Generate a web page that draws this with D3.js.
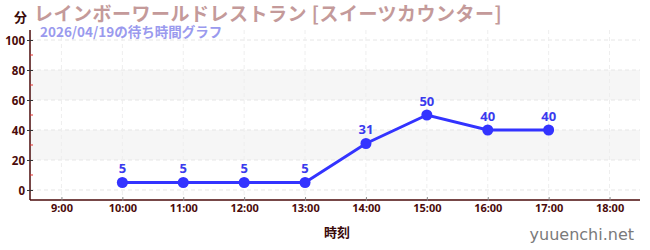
<!DOCTYPE html>
<html>
<head>
<meta charset="utf-8">
<script src="https://cdn.jsdelivr.net/npm/d3@7"></script>
<style>
  body { margin: 0; background: #fff; }
  svg { font-family: "Noto Sans CJK JP", "Noto Sans", sans-serif; }
</style>
</head>
<body>
<div id="container"></div>
<script>
/* DATA */
const hours = [10, 11, 12, 13, 14, 15, 16, 17];
const waits = [5, 5, 5, 5, 31, 50, 40, 40];
const xTicks = [9, 10, 11, 12, 13, 14, 15, 16, 17, 18];
const yTicks = [0, 20, 40, 60, 80, 100];
const yMinor = [10, 30, 50, 70, 90];
const bands = [[20, 40], [60, 80]];

const width = 650, height = 250;
const margin = { top: 30, right: 10, bottom: 50, left: 30 };

const svg = d3.select("#container").append("svg")
  .attr("width", width)
  .attr("height", height);

const xScale = d3.scaleLinear()
  .domain([8.5, 18.5])
  .range([margin.left + 1, width - margin.right]);

const yScale = d3.scaleLinear()
  .domain([-6.67, 106.67])
  .range([height - margin.bottom, margin.top]);

const axisColor = "#4a0a0a";
const numFont = "'Noto Sans', sans-serif";

// bands
svg.selectAll(".band")
  .data(bands)
  .join("rect")
  .attr("x", margin.left)
  .attr("width", width - margin.right - margin.left)
  .attr("y", d => yScale(d[1]))
  .attr("height", d => yScale(d[0]) - yScale(d[1]))
  .attr("fill", "#f6f6f6");

// grid
svg.selectAll(".hgrid")
  .data(yTicks)
  .join("line")
  .attr("x1", margin.left).attr("x2", width - margin.right)
  .attr("y1", d => yScale(d)).attr("y2", d => yScale(d))
  .attr("stroke", "#e6e6e6")
  .attr("stroke-dasharray", "4,3");

svg.selectAll(".vgrid")
  .data(xTicks)
  .join("line")
  .attr("x1", d => xScale(d)).attr("x2", d => xScale(d))
  .attr("y1", margin.top).attr("y2", height - margin.bottom)
  .attr("stroke", "#eeeeee")
  .attr("stroke-dasharray", "4,3");

// y axis
const yAxis = d3.axisLeft(yScale)
  .tickValues(yTicks)
  .tickSize(3)
  .tickPadding(2);

const yG = svg.append("g")
  .attr("transform", `translate(${margin.left},0)`)
  .call(yAxis);
yG.select(".domain").attr("stroke", axisColor).attr("stroke-width", 1.5).attr("d", `M0,${margin.top}V${height - margin.bottom}`);
yG.selectAll(".tick line").attr("stroke", "#333").attr("x1", 3);
yG.selectAll(".tick text")
  .attr("fill", axisColor)
  .style("font-size", "11.5px")
  .style("font-family", numFont)
  .style("font-weight", "bold")
  .attr("dy", "0.35em");

svg.selectAll(".yminor")
  .data(yMinor)
  .join("line")
  .attr("x1", margin.left).attr("x2", margin.left + 3)
  .attr("y1", d => yScale(d)).attr("y2", d => yScale(d))
  .attr("stroke", "#e03030");

// x axis
const xAxis = d3.axisBottom(xScale)
  .tickValues(xTicks)
  .tickSize(4)
  .tickPadding(0)
  .tickFormat(d => d + ":00");

const xG = svg.append("g")
  .attr("transform", `translate(0,${height - margin.bottom})`)
  .call(xAxis);
xG.select(".domain").attr("stroke", axisColor).attr("stroke-width", 1.5).attr("d", `M${margin.left},0H${width - margin.right}`);
xG.selectAll(".tick line").attr("stroke", "#888").attr("y1", -3).attr("y2", 1);
xG.selectAll(".tick text")
  .attr("fill", axisColor)
  .style("font-size", "11px")
  .style("font-family", numFont)
  .style("font-weight", "bold");

// line
const line = d3.line()
  .x((d, i) => xScale(hours[i]))
  .y(d => yScale(d));

svg.append("path")
  .datum(waits)
  .attr("d", line)
  .attr("fill", "none")
  .attr("stroke", "#3333ff")
  .attr("stroke-width", 3);

svg.selectAll(".dot")
  .data(waits)
  .join("circle")
  .attr("class", "dot")
  .attr("cx", (d, i) => xScale(hours[i]))
  .attr("cy", d => yScale(d))
  .attr("r", 5.5)
  .attr("fill", "#3333ff");

svg.selectAll(".val")
  .data(waits)
  .join("text")
  .attr("x", (d, i) => xScale(hours[i]))
  .attr("y", d => yScale(d) - 9)
  .attr("text-anchor", "middle")
  .attr("fill", "#3a3aee")
  .style("font-size", "13px")
  .style("font-family", numFont)
  .style("font-weight", "bold")
  .text(d => d);

// titles
svg.append("text")
  .attr("x", 34).attr("y", 21)
  .attr("fill", "#c49a9a")
  .style("font-size", "19px")
  .style("letter-spacing", "0.5px")
  .style("font-weight", "bold")
  .text("レインボーワールドレストラン [スイーツカウンター]");

svg.append("text")
  .attr("x", 40).attr("y", 37)
  .attr("fill", "#9a9aee")
  .style("font-size", "13.5px")
  .style("font-weight", "bold")
  .text("2026/04/19の待ち時間グラフ");

svg.append("text")
  .attr("x", 14).attr("y", 22)
  .attr("fill", "#3a0a0a")
  .style("font-size", "13px")
  .style("font-weight", "bold")
  .text("分");

svg.append("text")
  .attr("x", 337).attr("y", 237)
  .attr("text-anchor", "middle")
  .attr("fill", "#3a0a0a")
  .style("font-size", "13px")
  .style("font-weight", "bold")
  .text("時刻");

svg.append("text")
  .attr("x", 634).attr("y", 240)
  .attr("text-anchor", "end")
  .attr("fill", "#7a7a7a")
  .style("font-size", "16px")
  .style("font-family", "'DejaVu Sans', sans-serif")
  .text("yuuenchi.net");
</script>
</body>
</html>
